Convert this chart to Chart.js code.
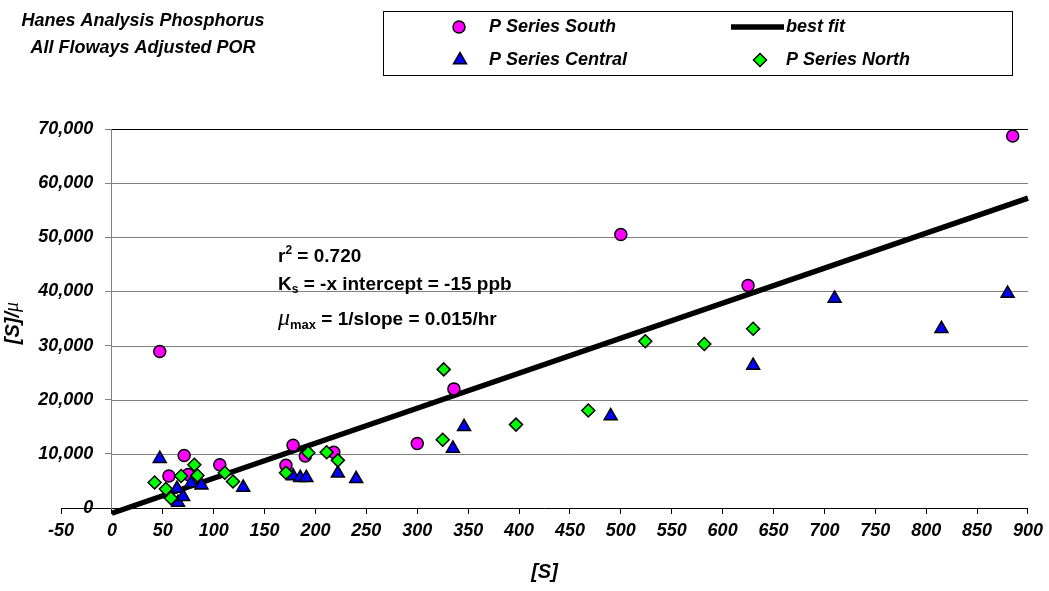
<!DOCTYPE html>
<html>
<head>
<meta charset="utf-8">
<title>Hanes Analysis Phosphorus</title>
<script src="https://cdn.jsdelivr.net/npm/chart.js@4"></script>
<style>
  html, body { margin: 0; padding: 0; background: #fff; }
  canvas { display: block; }
</style>
</head>
<body>
<canvas id="hanes" width="1049" height="591"></canvas>
<script>
// Data
const southX = [47, 56, 71, 75, 106, 171, 178, 190, 218, 300, 336, 500, 625, 885];
const southY = [28900, 5900, 9700, 6200, 8000, 7900, 11600, 9600, 10300, 11900, 22000, 50500, 41100, 68700];

const centralX = [47, 64, 65, 70, 78, 88, 129, 178, 185, 191, 222, 240, 335, 346, 490, 630, 710, 815, 880];
const centralY = [9100, 3600, 1000, 2100, 4600, 4200, 3800, 5900, 5600, 5600, 6400, 5400, 11000, 15000, 17000, 26300, 38700, 33100, 39600];

const northX = [42, 53, 58, 68, 81, 84, 111, 119, 171, 193, 211, 222, 325, 326, 397, 468, 524, 582, 630];
const northY = [4700, 3500, 1800, 5900, 8000, 6000, 6500, 4900, 6500, 10200, 10300, 8800, 12600, 25600, 15400, 18000, 30800, 30300, 33100];

// best fit line end points
const fitX = [0, 900];
const fitY = [-970, 57230];

const titleLines = ['Hanes Analysis Phosphorus', 'All Floways Adjusted POR'];

const FONT = '"Liberation Sans", Arial, sans-serif';
const SERIF = '"Liberation Serif", "Times New Roman", serif';

function toPoints(xs, ys) {
    return xs.map((x, i) => ({ x: x, y: ys[i] }));
}

/**
 * Draw one marker shape (used for the legend)
 */
function drawMarker(ctx, style, x, y, fill) {
    ctx.beginPath();
    if (style === 'circle') {
        ctx.arc(x, y, 6, 0, Math.PI * 2);
    } else if (style === 'triangle') {
        const r = 7.5;
        ctx.moveTo(x, y - r);
        ctx.lineTo(x + r * 0.866, y + r / 2);
        ctx.lineTo(x - r * 0.866, y + r / 2);
    } else {
        const r = 6.5;
        ctx.moveTo(x, y - r);
        ctx.lineTo(x + r, y);
        ctx.lineTo(x, y + r);
        ctx.lineTo(x - r, y);
    }
    ctx.closePath();
    ctx.fillStyle = fill;
    ctx.fill();
    ctx.lineWidth = 1.5;
    ctx.strokeStyle = '#000';
    ctx.stroke();
}

/**
 * Draw text made of parts with their own font and vertical shift
 */
function richText(ctx, x, y, parts) {
    let cx = x;
    parts.forEach(p => {
        ctx.font = p.font;
        ctx.fillText(p.t, cx, y + (p.dy || 0));
        cx += ctx.measureText(p.t).width;
    });
    return cx - x;
}

function richWidth(ctx, parts) {
    let w = 0;
    parts.forEach(p => {
        ctx.font = p.font;
        w += ctx.measureText(p.t).width;
    });
    return w;
}

const decorPlugin = {
    id: 'decor',

    // horizontal gridlines start at the y axis (x = 0)
    beforeDatasetsDraw(chart) {
        const { ctx, chartArea, scales } = chart;
        const x0 = scales.x.getPixelForValue(0);
        ctx.save();
        ctx.lineWidth = 1;
        scales.y.ticks.forEach(t => {
            if (t.value === 0) return;
            const py = Math.round(scales.y.getPixelForValue(t.value)) + 0.5;
            ctx.strokeStyle = t.value === scales.y.max ? '#000' : '#808080';
            ctx.beginPath();
            ctx.moveTo(x0, py);
            ctx.lineTo(chartArea.right, py);
            ctx.stroke();
        });
        ctx.restore();
    },

    afterDraw(chart) {
        const ctx = chart.ctx;
        ctx.save();
        ctx.fillStyle = '#000';

        // Title, top left
        ctx.font = 'italic bold 18px ' + FONT;
        ctx.textAlign = 'center';
        ctx.textBaseline = 'alphabetic';
        ctx.fillText(titleLines[0], 143, 26);
        ctx.fillText(titleLines[1], 143, 53);

        // Legend box
        ctx.lineWidth = 1;
        ctx.strokeStyle = '#000';
        ctx.strokeRect(383.5, 11.5, 629, 64);
        drawMarker(ctx, 'circle', 459, 27, '#FF00FF');
        drawMarker(ctx, 'triangle', 460, 60, '#0000FF');
        drawMarker(ctx, 'diamond', 760, 60, '#00FF00');
        ctx.beginPath();
        ctx.lineWidth = 5.5;
        ctx.moveTo(731, 27);
        ctx.lineTo(784, 27);
        ctx.stroke();
        ctx.fillStyle = '#000';
        ctx.font = 'italic bold 18px ' + FONT;
        ctx.textAlign = 'left';
        ctx.textBaseline = 'middle';
        ctx.fillText('P Series South', 489, 27);
        ctx.fillText('P Series Central', 489, 60);
        ctx.fillText('best fit', 786, 27);
        ctx.fillText('P Series North', 786, 60);

        // Fit annotation
        const bold = 'bold 19px ' + FONT;
        const small = 'bold 12px ' + FONT;
        ctx.textBaseline = 'alphabetic';
        richText(ctx, 278, 262, [
            { t: 'r', font: bold },
            { t: '2', font: small, dy: -8 },
            { t: ' = 0.720', font: bold }
        ]);
        richText(ctx, 278, 290, [
            { t: 'K', font: bold },
            { t: 's', font: small, dy: 3 },
            { t: ' = -x intercept = -15 ppb', font: bold }
        ]);
        richText(ctx, 278, 325, [
            { t: 'μ', font: 'italic 24px ' + SERIF },
            { t: 'max', font: 'bold 13px ' + FONT, dy: 4 },
            { t: ' = 1/slope = 0.015/hr', font: bold }
        ]);

        // Y axis title, rotated
        const yParts = [
            { t: '[S]/', font: 'italic bold 20px ' + FONT },
            { t: 'μ', font: 'italic 20px ' + SERIF }
        ];
        ctx.translate(13, 323);
        ctx.rotate(-Math.PI / 2);
        ctx.textBaseline = 'middle';
        richText(ctx, -richWidth(ctx, yParts) / 2, 0, yParts);

        ctx.restore();
    }
};

const pointBase = {
    borderColor: '#000',
    borderWidth: 1.5,
    clip: 10
};

new Chart(document.getElementById('hanes'), {
    type: 'scatter',
    data: {
        datasets: [
            {
                label: 'best fit',
                data: toPoints(fitX, fitY),
                showLine: true,
                borderColor: '#000',
                borderWidth: 5.5,
                pointRadius: 0,
                clip: 10,
                order: 4
            },
            Object.assign({
                label: 'P Series South',
                data: toPoints(southX, southY),
                pointStyle: 'circle',
                pointRadius: 6,
                backgroundColor: '#FF00FF',
                order: 3
            }, pointBase),
            Object.assign({
                label: 'P Series Central',
                data: toPoints(centralX, centralY),
                pointStyle: 'triangle',
                pointRadius: 7.5,
                backgroundColor: '#0000FF',
                order: 2
            }, pointBase),
            Object.assign({
                label: 'P Series North',
                data: toPoints(northX, northY),
                pointStyle: 'rectRot',
                pointRadius: 6.5,
                backgroundColor: '#00FF00',
                order: 1
            }, pointBase)
        ]
    },
    options: {
        responsive: false,
        devicePixelRatio: 1,
        animation: false,
        events: [],
        layout: {
            padding: { left: 61, right: 21, top: 129, bottom: 0 }
        },
        plugins: {
            legend: { display: false },
            title: { display: false },
            tooltip: { enabled: false }
        },
        scales: {
            x: {
                type: 'linear',
                position: 'bottom',
                min: -50,
                max: 900,
                afterFit: function(scale) {
                    scale.height = 83;
                },
                ticks: {
                    stepSize: 50,
                    color: '#000',
                    padding: 6,
                    maxRotation: 0,
                    autoSkip: false,
                    font: { family: FONT, size: 18, weight: 'bold', style: 'italic' }
                },
                grid: {
                    drawOnChartArea: false,
                    drawTicks: true,
                    tickLength: 6,
                    color: '#000'
                },
                border: { display: true, color: '#000', width: 1 },
                title: {
                    display: true,
                    text: '[S]',
                    color: '#000',
                    padding: { top: 0, bottom: 7 },
                    font: { family: FONT, size: 20, weight: 'bold', style: 'italic' }
                }
            },
            y: {
                type: 'linear',
                position: { x: 0 },
                min: 0,
                max: 70000,
                ticks: {
                    stepSize: 10000,
                    color: '#000',
                    font: { family: FONT, size: 18, weight: 'bold', style: 'italic' },
                    // the axis sits at x = 0, so keep the labels clear of the tick marks
                    callback: function(value) {
                        return value.toLocaleString('en-US') + '   \u2009';
                    }
                },
                grid: {
                    drawOnChartArea: false,
                    drawTicks: true,
                    tickLength: 6,
                    color: '#808080'
                },
                border: { display: true, color: '#808080', width: 1 }
            }
        }
    },
    plugins: [decorPlugin]
});
</script>
</body>
</html>
